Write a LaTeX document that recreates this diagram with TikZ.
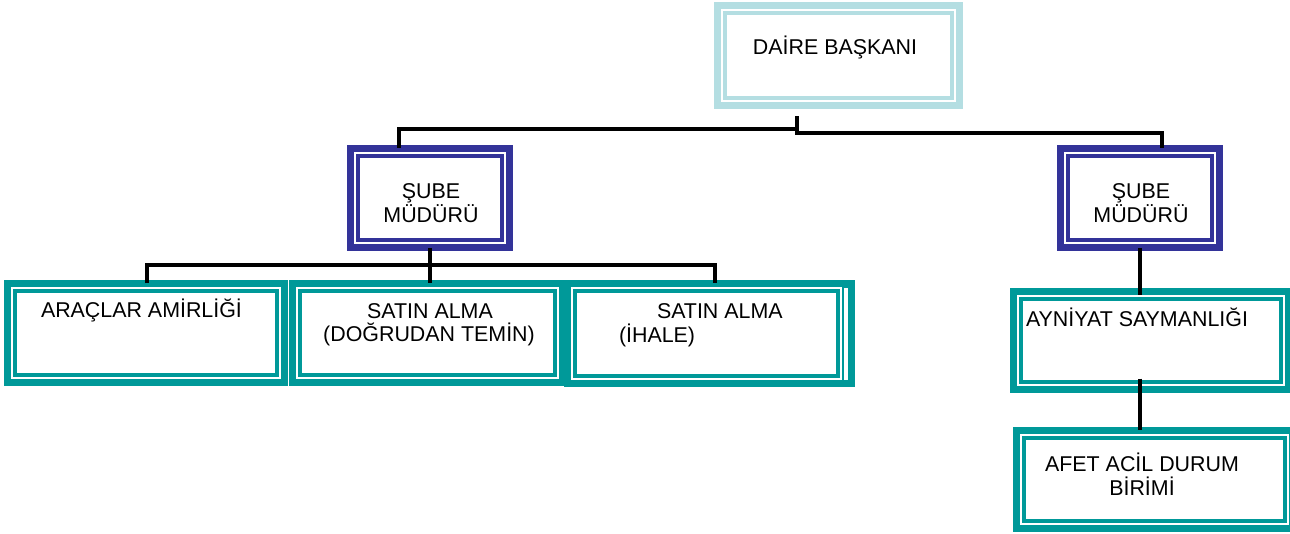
\documentclass[tikz,border=0pt]{standalone}
\usepackage{fontspec}
\setmainfont{Liberation Sans}
\definecolor{lightc}{RGB}{180,222,226}
\definecolor{navyc}{RGB}{51,51,153}
\definecolor{tealc}{RGB}{0,153,153}
\tikzset{
  obox/.style={draw, fill=white, line width=6.7pt, inner sep=0pt, outer sep=0pt},
  ibox/.style={line width=4.7pt},
  conn/.style={draw=black, line width=3.3pt, line join=miter},
  lbl/.style={inner sep=0pt, outer sep=0pt, font=\fontsize{21.4}{24}\selectfont, text=black},
}
% name, x0, y0, x1, y1, colour
\newcommand\dblbox[6]{%
  \node[obox, draw=#6, minimum width={(#4-#2-6.7)*1pt}, minimum height={(#5-#3-6.7)*1pt}]
    (#1) at ({(#2+#4)/2},{(#3+#5)/2}) {};
  \draw[ibox, draw=#6] ([xshift=7.7pt,yshift=-7.7pt]#1.north west)
    rectangle ([xshift=-7.7pt,yshift=7.7pt]#1.south east);
}
\begin{document}
\begin{tikzpicture}[x=1pt,y=-1pt]
\clip (0,0) rectangle (1290,533);
\fill[white] (0,0) rectangle (1290,533);

% boxes
\dblbox{daire}{714}{2}{963}{109}{lightc}
\dblbox{subeL}{347}{145}{513}{251}{navyc}
\dblbox{subeR}{1057}{145}{1223}{251}{navyc}
\dblbox{arac}{4}{280}{288}{386}{tealc}
\dblbox{dogru}{289}{280}{566}{386}{tealc}
\dblbox{ihale}{564}{280}{849}{387}{tealc}
% extra overlapping edge at the right of the tender box
\fill[white] (844,288) rectangle (848,380);
\fill[tealc] (848,280) rectangle (855,387);
\dblbox{ayn}{1010}{288}{1292}{393}{tealc}
\dblbox{afet}{1013}{427}{1296}{532}{tealc}

% labels
\node[lbl, anchor=base] (t-daire) at (835,54.5) {DAİRE BAŞKANI};
\node[lbl, anchor=base] (t-sl1) at (431,198.5) {ŞUBE};
\node[lbl, anchor=base] (t-sl2) at (431,222.5) {MÜDÜRÜ};
\node[lbl, anchor=base] (t-sr1) at (1141,198.5) {ŞUBE};
\node[lbl, anchor=base] (t-sr2) at (1141,222.5) {MÜDÜRÜ};
\node[lbl, anchor=base west] (t-arac) at (41,317.3) {ARAÇLAR AMİRLİĞİ};
\node[lbl, anchor=base] (t-d1) at (430,318.3) {SATIN ALMA};
\node[lbl, anchor=base] (t-d2) at (429,341.7) {(DOĞRUDAN TEMİN)};
\node[lbl, anchor=base west] (t-i1) at (657,318.3) {SATIN ALMA};
\node[lbl, anchor=base west] (t-i2) at (619,342) {(İHALE)};
\node[lbl, anchor=base west] (t-ayn) at (1026,326.7) {AYNİYAT SAYMANLIĞI};
\node[lbl, anchor=base] (t-a1) at (1142,471.7) {AFET ACİL DURUM};
\node[lbl, anchor=base] (t-a2) at (1142,495.7) {BİRİMİ};

% connectors
\coordinate (d-stub) at (797,116);
\coordinate (d-j) at (797,133);
\coordinate (d-jl) at (797,129);
\coordinate (l-top) at (399,129);
\coordinate (r-top) at (1162,133);
\draw[conn] (d-stub) -- (d-j) -- (r-top) -- (r-top |- subeR.north);
\draw[conn] (d-jl) -- (l-top) -- (l-top |- subeL.north);

\coordinate (h-l) at (147,265);
\coordinate (h-r) at (715,265);
\draw[conn] (h-l |- arac.north) -- (h-l) -- (h-r) -- (h-r |- ihale.north);
\draw[conn] (subeL.south) -- (subeL.south |- dogru.north);

\coordinate (ay-top) at (subeR.south |- ayn.north);
\coordinate (ay-bot) at (subeR.south |- ayn.south);
\draw[conn] (subeR.south) -- ([yshift=-4pt]ay-top);
\draw[conn] ([yshift=11pt]ay-bot) -- (ay-bot |- afet.north);
\end{tikzpicture}
\end{document}
